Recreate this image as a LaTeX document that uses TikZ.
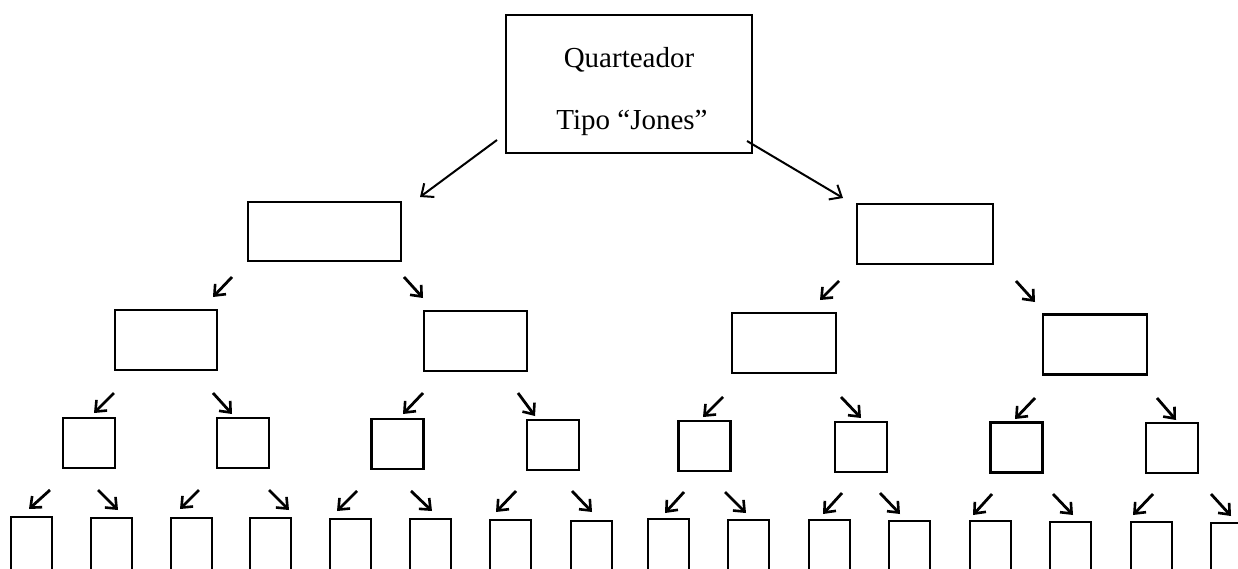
\documentclass[tikz,border=0pt]{standalone}
\usepackage{fontspec}
\setmainfont{Liberation Serif}
\usetikzlibrary{arrows.meta}
\begin{document}
\begin{tikzpicture}[x=1pt,y=-1pt,
  box/.style={draw,line width=2.1pt,inner sep=0pt},
  rootbox/.style={draw,line width=1.5pt,inner sep=0pt},
  lbl/.style={anchor=base,inner sep=0pt,font=\fontsize{29}{34}\selectfont},
  arr/.style={line width=2.8pt,-{Straight Barb[length=9pt,width=15pt,line width=2.6pt]}},
  bigarr/.style={line width=2pt,-{Straight Barb[length=10pt,width=17pt,line width=2pt]}}]
\clip (0,0) rectangle (1238,569);
\fill[white] (0,0) rectangle (1238,569);

% root
\node[rootbox,minimum width=246pt,minimum height=138pt] (root) at (629,84) {};
\node[lbl] (t1) at (629,68) {Quarteador};
\node[lbl] (t2) at (632,130) {Tipo “Jones”};

% first level
\node[box,minimum width=153pt,minimum height=59pt] (a) at (324.5,231.5) {};
\node[box,minimum width=136pt,minimum height=60pt] (b) at (925,234) {};

% second level
\foreach \n/\cx/\cy/\w in {aa/166/340/102, ab/475.5/341/103, ba/784/343/104, bb/1095/344.5/104}
  \node[box,minimum width=\w pt,minimum height=60pt] (\n) at (\cx,\cy) {};

% third level
\foreach \n/\cx/\cy in {c1/89/443, c2/243/443, c3/397.5/444, c4/553/445,
                        c5/704.5/446, c6/861/447, c7/1016.5/447.5, c8/1172/448}
  \node[box,minimum width=52pt,minimum height=50pt] (\n) at (\cx,\cy) {};

% fourth level (runs past the lower edge)
\foreach \n/\lx/\ty in {d1/11/517, d2/91/518, d3/171/518, d4/250/518,
                        d5/330/519, d6/410/519, d7/490/520, d8/571/521,
                        d9/648/519, d10/728/520, d11/809/520, d12/889/521,
                        d13/970/521, d14/1050/522, d15/1131/522, d16/1211/523}
  \node[box,minimum width=41pt,minimum height=90pt] (\n) at (\lx+20.5,\ty+45) {};

% arrows from the root
\coordinate (r1s) at (497,140); \coordinate (r1e) at (420,197);
\coordinate (r2s) at (747,141); \coordinate (r2e) at (843,198);
\draw[bigarr] (r1s) -- (r1e);
\draw[bigarr] (r2s) -- (r2e);

% short arrows between the lower levels
\foreach \i/\xa/\ya/\xb/\yb in {
   1/232/277/213/297, 2/404/277/423/298, 3/839/281/820/300, 4/1016/281/1035/302,
   5/114/393/94/413, 6/213/393/232/414, 7/423/393/403/414, 8/518/393/535/416,
   9/723/397/703/417, 10/841/397/861/418, 11/1035/398/1015/419, 12/1157/398/1176/420,
   13/50/490/29/509, 14/98/490/118/510, 15/199/490/180/509, 16/269/490/289/510,
   17/357/491/337/511, 18/411/491/432/511, 19/516/491/496/512, 20/572/491/592/512,
   21/684/492/665/513, 22/725/492/746/513, 23/842/493/823/514, 24/880/493/900/514,
   25/992/494/973/515, 26/1053/494/1073/515, 27/1153/494/1133/515, 28/1211/494/1231/516}{
  \coordinate (s\i) at (\xa,\ya);
  \coordinate (e\i) at (\xb,\yb);
  \draw[arr] (s\i) -- (e\i);
}
\end{tikzpicture}
\end{document}
